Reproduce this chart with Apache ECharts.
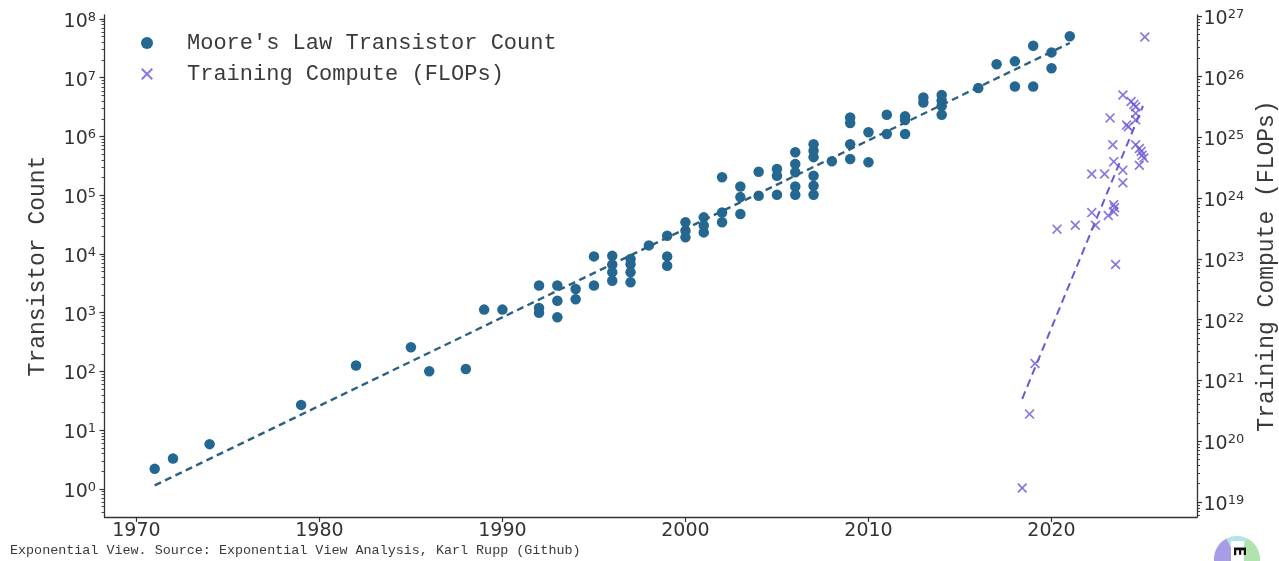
<!DOCTYPE html>
<html>
<head>
<meta charset="utf-8">
<script src="https://cdn.jsdelivr.net/npm/echarts@6/dist/echarts.min.js"></script>
<style>
html,body{margin:0;padding:0;background:#fff;}
#chart{width:1279px;height:561px;}
</style>
</head>
<body>
<div id="chart"></div>
<script>
// ---------------- data ----------------
const transistorYears = [
  1971, 1972, 1974, 1979, 1982, 1985, 1986, 1988, 1989, 1990,
  1992, 1992, 1992, 1993, 1993, 1993, 1994, 1994, 1995, 1995,
  1996, 1996, 1996, 1996, 1997, 1997, 1997, 1997, 1998,
  1999, 1999, 1999, 2000, 2000, 2000, 2001, 2001, 2001,
  2002, 2002, 2002, 2003, 2003, 2003, 2004, 2004,
  2005, 2005, 2005, 2006, 2006, 2006, 2006, 2006,
  2007, 2007, 2007, 2007, 2007, 2007, 2008,
  2009, 2009, 2009, 2009, 2010, 2010, 2011, 2011,
  2012, 2012, 2012, 2013, 2013, 2014, 2014, 2014, 2014,
  2016, 2017, 2018, 2018, 2019, 2019, 2020, 2020, 2021
];
const transistorCounts = [
  2.2, 3.3, 5.8, 27, 126, 258, 101, 110, 1130, 1130,
  2900, 1200, 1000, 2900, 1600, 840, 2530, 1700, 9100, 2900,
  9300, 6600, 4900, 3500, 8200, 6700, 4900, 3300, 14000,
  20500, 9100, 6300, 34600, 25000, 19200, 42000, 30500, 23300,
  203000, 51000, 34600, 141000, 93000, 48000, 251000, 98000,
  280000, 215000, 102000, 540000, 340000, 246000, 141000, 102000,
  740000, 570000, 445000, 215000, 145000, 102000, 380000,
  2.1e6, 1.7e6, 740000, 415000, 1.18e6, 365000, 2.35e6, 1.1e6,
  2.2e6, 1.9e6, 1.1e6, 4.6e6, 3.8e6, 5.1e6, 4.1e6, 3.3e6, 2.35e6,
  6.7e6, 1.7e7, 1.9e7, 7.1e6, 3.5e7, 7.1e6, 2.7e7, 1.45e7, 5.1e7
];
const transistorTrendYears = [1971, 2021];
const transistorTrendValues = [1.15, 3.9e7];

const computeYears = [
  2018.4, 2018.8, 2019.1, 2020.3, 2021.3, 2022.2, 2022.2, 2022.4, 2022.9, 2023.1,
  2023.2, 2023.35, 2023.4, 2023.4, 2023.45, 2023.4, 2023.5, 2023.9, 2023.9, 2023.9,
  2024.1, 2024.2, 2024.35, 2024.5, 2024.6, 2024.6, 2024.6, 2024.6, 2024.8, 2024.9,
  2024.95, 2025.05, 2024.8, 2025.1
];
const computeFlops = [
  1.7e19, 2.8e20, 1.9e21, 3.1e23, 3.6e23, 2.5e24, 5.8e23, 3.6e23, 2.5e24, 5.2e23,
  2.1e25, 7.6e24, 4.0e24, 7.8e23, 7.0e23, 6.0e23, 8.1e22, 5.0e25, 2.9e24, 1.8e24,
  1.6e25, 1.5e25, 3.9e25, 3.5e25, 3.2e25, 2.5e25, 1.95e25, 7.6e24, 6.6e24, 5.9e24,
  5.1e24, 4.6e24, 3.5e24, 4.5e26
];
const computeTrendYears = [2018.4, 2025.0];
const computeTrendValues = [5.0e20, 3.3e25];

const xTickYears = [1970, 1980, 1990, 2000, 2010, 2020];
const leftTicks = [1e0, 1e1, 1e2, 1e3, 1e4, 1e5, 1e6, 1e7, 1e8];
const rightTicks = [1e19, 1e20, 1e21, 1e22, 1e23, 1e24, 1e25, 1e26, 1e27];
const minorMultipliers = [2, 3, 4, 5, 6, 7, 8, 9];

const sourceText = 'Exponential View. Source: Exponential View Analysis, Karl Rupp (Github)';

// ---------------- helpers ----------------
function minorTicks(lowExp, highExp) {
  const out = [];
  for (let e = lowExp; e <= highExp; e++) {
    minorMultipliers.forEach(m => out.push(m * Math.pow(10, e)));
  }
  return out;
}
function zip(a, b) { return a.map((v, i) => [v, b[i]]); }
function supLabel(v) {
  const e = Math.round(Math.log10(v));
  return '{b|10}{s|' + e + '}';
}

const BLUE = '#246891';
const BLUE_LINE = '#2a6182';
const PURPLE = '#6b58d3';
const TXT = '#333333';
const MONO = '"Liberation Mono", "DejaVu Sans Mono", monospace';
const SANS = '"DejaVu Sans", sans-serif';
const CROSS = 'path://M0,1.2L1.2,0L5,3.8L8.8,0L10,1.2L6.2,5L10,8.8L8.8,10L5,6.2L1.2,10L0,8.8L3.8,5Z';

const labelRich = {
  b: { fontFamily: SANS, fontSize: 19, lineHeight: 26, padding: [6, 0, 0, 0], color: TXT },
  s: { fontFamily: SANS, fontSize: 13, lineHeight: 14, padding: [5, 0, 0, 0], verticalAlign: 'top', color: TXT }
};

const leftMin = Math.pow(10, -0.477), leftMax = Math.pow(10, 8.068);
const rightMin = Math.pow(10, 18.753), rightMax = Math.pow(10, 27.016);

const chart = echarts.init(document.getElementById('chart'), null, { renderer: 'canvas' });

const option = {
  backgroundColor: '#ffffff',
  animation: false,
  grid: { left: 104.5, right: 82, top: 15, bottom: 44, containLabel: false, outerBoundsMode: 'none' },
  legend: {
    orient: 'vertical',
    left: 136,
    top: 27,
    itemWidth: 12,
    itemHeight: 12,
    itemGap: 9,
    textStyle: { fontFamily: MONO, fontSize: 22, color: '#3a3a3a', padding: [0, 0, 0, 29] },
    data: [
      { name: "Moore's Law Transistor Count", icon: 'circle', itemStyle: { color: BLUE } },
      { name: 'Training Compute (FLOPs)', icon: CROSS, itemStyle: { color: PURPLE } }
    ]
  },
  xAxis: {
    type: 'value',
    min: 1968.257,
    max: 2027.95,
    splitLine: { show: false },
    axisLine: { show: true, lineStyle: { color: TXT, width: 1.3 } },
    axisTick: { show: true, length: 5, customValues: xTickYears, lineStyle: { color: TXT, width: 1.2 } },
    axisLabel: {
      customValues: xTickYears,
      fontFamily: SANS, fontSize: 19, color: TXT, margin: 5,
      formatter: v => String(v)
    }
  },
  yAxis: [
    {
      type: 'log', logBase: 10, position: 'left',
      min: leftMin, max: leftMax,
      name: 'Transistor Count', nameLocation: 'middle', nameRotate: 90, nameGap: 55,
      nameTextStyle: { fontFamily: MONO, fontSize: 23, color: '#3a3a3a' },
      splitLine: { show: false },
      axisLine: { show: true, lineStyle: { color: TXT, width: 1.3 } },
      axisTick: { show: true, length: 5, customValues: leftTicks, lineStyle: { color: TXT, width: 1.2 } },
      axisLabel: { customValues: leftTicks, margin: 8.5, formatter: supLabel, rich: labelRich }
    },
    {
      type: 'log', logBase: 10, position: 'right',
      min: rightMin, max: rightMax,
      name: 'Training Compute (FLOPs)', nameLocation: 'middle', nameRotate: 90, nameGap: 49,
      nameTextStyle: { fontFamily: MONO, fontSize: 23, color: '#3a3a3a' },
      splitLine: { show: false },
      axisLine: { show: true, lineStyle: { color: TXT, width: 1.3 } },
      axisTick: { show: true, length: 5, customValues: rightTicks, lineStyle: { color: TXT, width: 1.2 } },
      axisLabel: { customValues: rightTicks, margin: 6.5, formatter: supLabel, rich: labelRich }
    },
    {
      type: 'log', logBase: 10, position: 'left',
      min: leftMin, max: leftMax,
      splitLine: { show: false },
      axisLine: { show: false },
      axisTick: { show: true, length: 3, customValues: minorTicks(-1, 8).filter(v => v >= leftMin && v <= leftMax), lineStyle: { color: TXT, width: 0.9 } },
      axisLabel: { show: false }
    },
    {
      type: 'log', logBase: 10, position: 'right',
      min: rightMin, max: rightMax,
      splitLine: { show: false },
      axisLine: { show: false },
      axisTick: { show: true, length: 3, customValues: minorTicks(18, 27).filter(v => v >= rightMin && v <= rightMax), lineStyle: { color: TXT, width: 0.9 } },
      axisLabel: { show: false }
    }
  ],
  series: [
    {
      name: "Moore's Law Transistor Count",
      type: 'scatter',
      yAxisIndex: 0,
      symbol: 'circle',
      symbolSize: 10.5,
      itemStyle: { color: BLUE, opacity: 1 },
      data: zip(transistorYears, transistorCounts),
      z: 2
    },
    {
      name: 'Transistor Trend',
      type: 'line',
      yAxisIndex: 0,
      symbol: 'none',
      lineStyle: { color: BLUE_LINE, width: 2.4, type: [7, 4.5] },
      data: zip(transistorTrendYears, transistorTrendValues),
      z: 3,
      silent: true
    },
    {
      name: 'Training Compute (FLOPs)',
      type: 'scatter',
      yAxisIndex: 1,
      symbol: CROSS,
      symbolSize: 10,
      itemStyle: { color: PURPLE },
      data: zip(computeYears, computeFlops),
      z: 2
    },
    {
      name: 'Compute Trend',
      type: 'line',
      yAxisIndex: 1,
      symbol: 'none',
      lineStyle: { color: PURPLE, width: 2, type: [8, 5] },
      data: zip(computeTrendYears, computeTrendValues),
      z: 3,
      silent: true
    }
  ],
  graphic: [
    {
      type: 'text', left: 10, top: 544,
      style: { text: sourceText, font: '13.4px ' + MONO, fill: '#3a3a3a' }
    },
    { type: 'sector', shape: { cx: 1237, cy: 559, r: 23, r0: 0, startAngle: Math.PI * 0.5, endAngle: Math.PI * 1.35 }, style: { fill: '#a79ce6' } },
    { type: 'sector', shape: { cx: 1237, cy: 559, r: 23, r0: 0, startAngle: Math.PI * 1.35, endAngle: Math.PI * 1.65 }, style: { fill: '#b3e4e6' } },
    { type: 'sector', shape: { cx: 1237, cy: 559, r: 23, r0: 0, startAngle: Math.PI * 1.65, endAngle: Math.PI * 2.5 }, style: { fill: '#b0e3ae' } },
    { type: 'rect', shape: { x: 1231, y: 541, width: 13, height: 20 }, style: { fill: '#ffffff' } },
    { type: 'text', x: 1237.5, y: 551, rotation: -Math.PI / 2, style: { text: 'E', font: 'bold 15px ' + SANS, fill: '#111', align: 'center', verticalAlign: 'middle' } }
  ]
};

chart.setOption(option);
</script>
</body>
</html>
